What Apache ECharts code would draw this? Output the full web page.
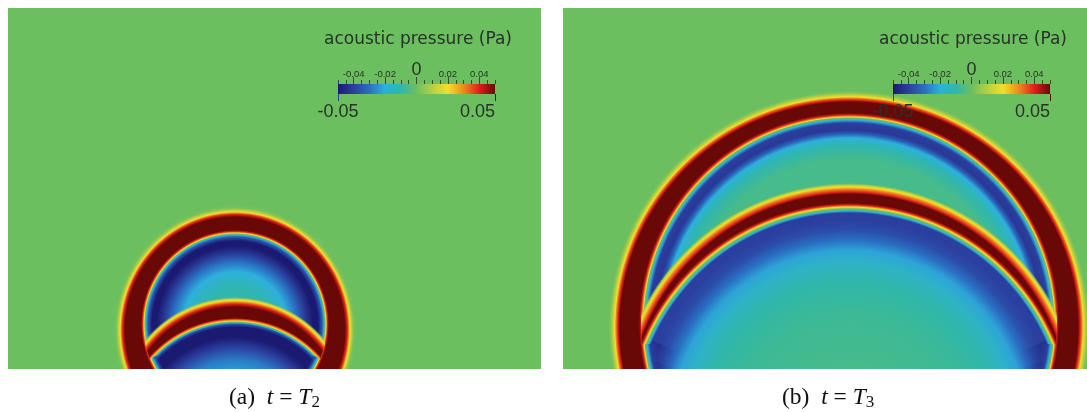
<!DOCTYPE html>
<html><head><meta charset="utf-8">
<style>html,body{margin:0;padding:0;background:#fff}#c{width:1087px;height:412px}</style>
<script src="https://cdn.jsdelivr.net/npm/echarts@6/dist/echarts.min.js"></script>
</head><body><div id="c"></div>
<script>
// colour scale
const barValues = [-0.05,-0.04,-0.03,-0.02,-0.01,0,0.01,0.02,0.03,0.04,0.05];
const barColors = ['#1a1a72','#2b3f9e','#2a6fc2','#2eb0dc','#2fb8a6','#6cbf5f','#b4cf45','#f2df2a','#ee8a1f','#dd201c','#680907'];
// colour legend ticks and labels
const majorTicks = [-0.04,-0.02,0,0.02,0.04];
const minorTicks = [-0.05,-0.045,-0.04,-0.035,-0.03,-0.025,-0.02,-0.015,-0.01,-0.005,0,0.005,0.01,0.015,0.02,0.025,0.03,0.035,0.04,0.045,0.05];
const legendTitle = 'acoustic pressure (Pa)';
const captionLetters = ['(a)','(b)'];
const captionSymbols = ['T','T'];
const captionSubs = ['2','3'];

// Pressure read along the vertical symmetry axis: row of the picture -> pressure (Pa).
// Panel (a)
const aFrontOuterY = [205,208,210,212,213,214.5,217];
const aFrontOuterP = [0,0.002,0.01,0.02,0.03,0.04,0.05];
const aFrontInnerY = [230,231.5,233,234,235,237,241,246,253,262,272,287];
const aFrontInnerP = [0.05,0.04,0.02,0,-0.02,-0.035,-0.05,-0.05,-0.042,-0.03,-0.02,-0.012];
const aArchOuterY = [297,299,300.5,302,304,307];
const aArchOuterP = [0,0.012,0.02,0.03,0.04,0.05];
const aArchInnerY = [318,319,321,322,323,324,327,337,347,360,369];
const aArchInnerP = [0.05,0.04,0.02,0,-0.02,-0.035,-0.05,-0.05,-0.04,-0.028,-0.024];
// Panel (b)
const bFrontOuterY = [91,93,95,97,98,100,102];
const bFrontOuterP = [0,0.004,0.012,0.02,0.03,0.04,0.05];
const bFrontInnerY = [113,115,117,118,120,123,130,134,138,145,160];
const bFrontInnerP = [0.05,0.04,0.02,0,-0.02,-0.04,-0.042,-0.033,-0.02,-0.012,-0.006];
const bArchOuterY = [183,185,187,189,192,194];
const bArchOuterP = [0,0.01,0.02,0.03,0.04,0.05];
const bArchInnerY = [203,205,207,209,211,213,220,230,240,250,262,280,310,369];
const bArchInnerP = [0.05,0.04,0.02,0,-0.02,-0.04,-0.04,-0.037,-0.03,-0.022,-0.016,-0.011,-0.008,-0.006];
// dark blue band that runs beside the wall near the bottom of panel (b)
const bWallY = [213,222,244];
const bWallP = [-0.05,-0.05,-0.04];

// Wave-front circles: [centre x, centre y]
const aFrontOuterC = [235,330], aFrontInnerC = [235,324], aArchOuterC = [235,414], aArchInnerC = [235,433];
const bFrontOuterC = [849,327], bFrontInnerC = [849,323], bArchOuterC = [849,415], bArchInnerC = [849,428];

const chart = echarts.init(document.getElementById('c'), null, {renderer:'canvas'});
const G = echarts.graphic;

function colorOf(p, a){
  const t = Math.max(0, Math.min(1, (p + 0.05) / 0.1));
  const c = echarts.color.lerp(t, barColors);
  return a === undefined ? c : echarts.color.modifyAlpha(c, a);
}
function stopsFor(cy, ys, ps, fade){
  const r0 = Math.abs(cy - ys[0]);
  const s = ys.map((y,i)=>({offset: Math.abs(cy - y)/r0, color: colorOf(ps[i], fade && i===0 ? 0 : undefined)}));
  s.reverse();
  if (s[0].offset > 0) s.unshift({offset:0, color:s[0].color});
  return s;
}
function pxR(api, c, y){ return Math.abs(api.coord([c[0], y])[1] - api.coord(c)[1]); }

// one filled front disk
function disk(grid, C, ys, ps, o){
  o = o || {};
  return {
    type:'custom', coordinateSystem:'cartesian2d', xAxisIndex:grid, yAxisIndex:grid, clip:true, silent:true, z:2,
    data:[C],
    renderItem(params, api){
      const c = api.coord([api.value(0), api.value(1)]);
      const r = pxR(api, C, ys[0]);
      const el = {
        type:'circle', shape:{cx:c[0], cy:c[1], r},
        style:{fill:new G.RadialGradient(0.5,0.5,0.5,stopsFor(C[1],ys,ps,o.fade))}
      };
      if (o.sx) { el.originX=c[0]; el.originY=c[1]; el.scaleX=o.sx; }
      if (o.clipC) {
        const cc = api.coord(o.clipC);
        el.clipPath = {type:'circle', shape:{cx:cc[0], cy:cc[1], r:pxR(api,o.clipC,o.clipY)}};
      }
      return el;
    }
  };
}
// an arc of a profile that fades out on its inner side; angles in degrees
function rim(grid, C, ys, ps, angles, alpha){
  return {
    type:'custom', coordinateSystem:'cartesian2d', xAxisIndex:grid, yAxisIndex:grid, clip:true, silent:true, z:2,
    data:[C],
    renderItem(params, api){
      const c = api.coord([api.value(0), api.value(1)]);
      const r = pxR(api, C, ys[0]);
      const r0 = pxR(api, C, ys[ys.length-1]);
      const stops = ys.map((y,i)=>({offset:Math.abs(C[1]-y)/Math.abs(C[1]-ys[0]), color:colorOf(ps[i], i===ys.length-1?0:(alpha||1))})).reverse();
      const fill = new G.RadialGradient(c[0],c[1],r,[{offset:0,color:stops[0].color}].concat(stops),true);
      return {type:'group', children:angles.map(a=>({
        type:'sector', shape:{cx:c[0], cy:c[1], r, r0, startAngle:a[0]*Math.PI/180, endAngle:a[1]*Math.PI/180, clockwise:true},
        style:{fill}
      }))};
    }
  };
}

const grids = [
  {left:8, top:8, width:533, height:361, show:true, backgroundColor:barColors[5], borderWidth:0},
  {left:563, top:8, width:524, height:361, show:true, backgroundColor:barColors[5], borderWidth:0}
];
const xAxes = [
  {gridIndex:0, type:'value', min:8, max:541, show:false},
  {gridIndex:1, type:'value', min:563, max:1087, show:false}
];
const yAxes = [
  {gridIndex:0, type:'value', min:8, max:369, inverse:true, show:false},
  {gridIndex:1, type:'value', min:8, max:369, inverse:true, show:false}
];
const aClip = {clipC:aFrontInnerC, clipY:232};
const bClip = {clipC:bFrontInnerC, clipY:115};
const series = [
  disk(0, aFrontOuterC, aFrontOuterY, aFrontOuterP, {sx:0.973}),
  disk(0, aFrontInnerC, aFrontInnerY, aFrontInnerP),
  disk(0, aArchOuterC, aArchOuterY, aArchOuterP, Object.assign({fade:true}, aClip)),
  disk(0, aArchInnerC, aArchInnerY, aArchInnerP, aClip),
  rim(0, aFrontInnerC, aFrontInnerY.slice(0,7), aFrontInnerP.slice(0,7), [[110,158],[22,70]]),
  disk(1, bFrontOuterC, bFrontOuterY, bFrontOuterP, {sx:1.018}),
  disk(1, bFrontInnerC, bFrontInnerY, bFrontInnerP),
  disk(1, bArchOuterC, bArchOuterY, bArchOuterP, Object.assign({fade:true}, bClip)),
  disk(1, bArchInnerC, bArchInnerY, bArchInnerP, bClip),
  rim(1, bArchInnerC, bWallY, bWallP, [[180,204],[-24,0]], 0.35),
  rim(1, bArchInnerC, bWallY, bWallP, [[180,199],[-19,0]], 0.45),
  rim(1, bArchInnerC, bWallY, bWallP, [[180,194],[-14,0]], 0.6),
  rim(1, bFrontInnerC, bFrontInnerY.slice(0,7), bFrontInnerP.slice(0,7), [[130,174],[6,50]])
];

// colour legends
const legendLefts = [338, 893];
legendLefts.forEach((left)=>{
  const g = grids.length;
  grids.push({left, top:84, width:157, height:10, show:false});
  yAxes.push({gridIndex:g, type:'value', min:0, max:1, show:false});
  const ax = {gridIndex:g, type:'value', min:-0.05, max:0.05, z:10, splitLine:{show:false}, axisLine:{show:false, onZero:false}};
  const first = xAxes.length;
  xAxes.push(Object.assign({}, ax, {position:'top',
    axisTick:{show:true, length:4, customValues:minorTicks, lineStyle:{color:'#3a4a3a', width:1}},
    axisLabel:{show:false}}));
  xAxes.push(Object.assign({}, ax, {position:'top',
    axisTick:{show:true, length:7, customValues:majorTicks, lineStyle:{color:'#3a4a3a', width:1}},
    axisLabel:{show:true, margin:5, customValues:majorTicks, hideOverlap:false, showMinLabel:true, showMaxLabel:true,
      fontFamily:'Liberation Sans', color:'#26322a', fontSize:9.5,
      formatter:v=>Math.abs(v)<1e-9?'{z|0}':(+v).toFixed(2),
      rich:{z:{fontSize:18, fontFamily:'Liberation Sans', color:'#26322a'}}}}));
  xAxes.push(Object.assign({}, ax, {position:'bottom',
    axisTick:{show:true, length:7, customValues:[-0.05], lineStyle:{color:barColors[1], width:1}},
    axisLabel:{show:true, margin:9, customValues:[-0.05], showMinLabel:true, fontFamily:'Liberation Sans', color:'#26322a', fontSize:18,
      formatter:v=>(+v).toFixed(2)}}));
  xAxes.push(Object.assign({}, ax, {position:'bottom',
    axisTick:{show:true, length:7, customValues:[0.05], lineStyle:{color:barColors[10], width:1}},
    axisLabel:{show:true, margin:9, customValues:[0.05], showMaxLabel:true, align:'right', fontFamily:'Liberation Sans', color:'#26322a', fontSize:18,
      formatter:v=>(+v).toFixed(2)}}));
  series.push({
    type:'custom', coordinateSystem:'cartesian2d', xAxisIndex:first, yAxisIndex:g, silent:true, z:5,
    data:[[barValues[0], barValues[barValues.length-1]]],
    renderItem(params, api){
      const a = api.coord([api.value(0), 1]), b = api.coord([api.value(1), 0]);
      const stops = barValues.map((v,i)=>({offset:i/(barValues.length-1), color:barColors[i]}));
      return {type:'rect', shape:{x:a[0], y:a[1], width:b[0]-a[0], height:b[1]-a[1]},
        style:{fill:new G.LinearGradient(0,0,1,0,stops)}};
    }
  });
});

const titles = [];
[324, 879].forEach(left=>titles.push({text:legendTitle, left, top:31, padding:0, z:10,
  textStyle:{fontFamily:'DejaVu Sans', fontWeight:'normal', fontSize:17, color:'#26322a'}}));
const capRich = {
  n:{fontFamily:'Liberation Serif', fontWeight:'normal', fontSize:23.5, color:'#111'},
  i:{fontFamily:'Liberation Serif', fontWeight:'normal', fontStyle:'italic', fontSize:23.5, color:'#111'},
  s:{fontFamily:'Liberation Serif', fontWeight:'normal', fontSize:17, color:'#111', padding:[9,0,0,0]}
};
[229, 782].forEach((left,i)=>titles.push({
  text:`{n|${captionLetters[i]}}{n|  }{i|t}{n| = }{i|${captionSymbols[i]}}{s|${captionSubs[i]}}`,
  left, top:385, padding:0,
  textStyle:{fontWeight:'normal', rich:capRich}
}));

chart.setOption({animation:false, title:titles, grid:grids, xAxis:xAxes, yAxis:yAxes, series});
</script></body></html>
